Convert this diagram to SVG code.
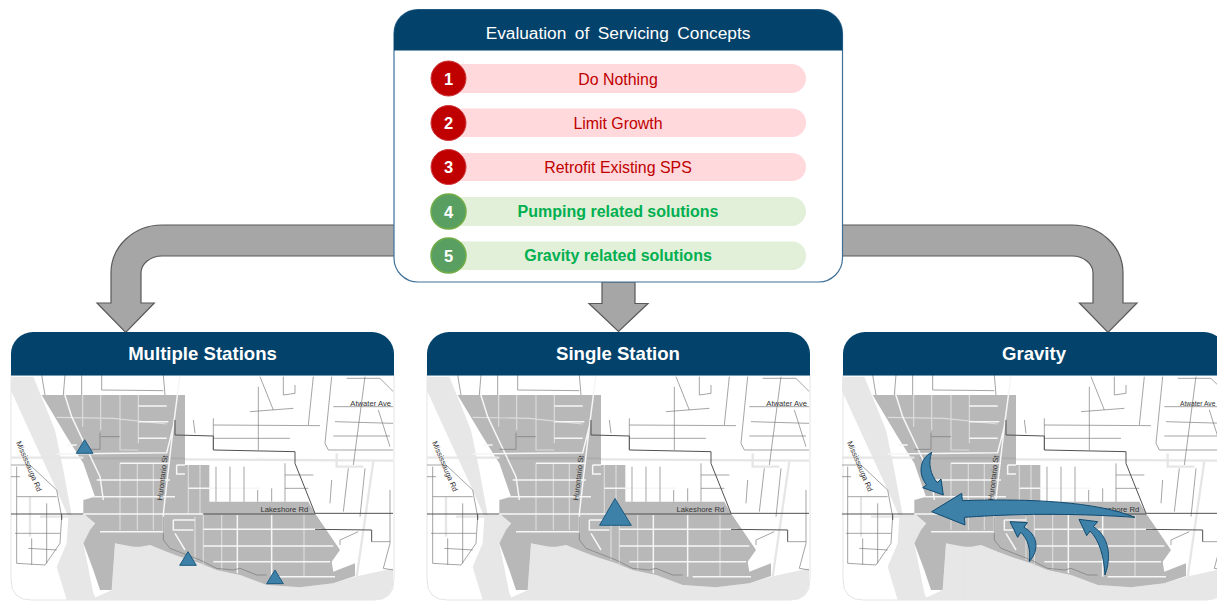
<svg xmlns="http://www.w3.org/2000/svg" xmlns:xlink="http://www.w3.org/1999/xlink" width="1217" height="601" viewBox="0 0 1217 601">
<style>
text{font-family:"Liberation Sans",Arial,sans-serif;text-anchor:middle}
.hd{fill:#03426b}
.ttl{fill:#fff;font-size:18.600px;font-weight:bold}
.arrow{fill:#a6a6a6;stroke:#595959;stroke-width:1.2}
.pr{fill:#ffd9dc}.pg{fill:#e2efd9}
.cr{fill:#c00000;stroke:#d0383c;stroke-width:1}
.cg{fill:#5a9f62;stroke:#70ad47;stroke-width:1.500}
.n{fill:#fff;font-size:16.500px;font-weight:bold}
.tr{fill:#c00000;font-size:15.900px}
.tg{fill:#00b050;font-size:16px;font-weight:bold}
.lbl{fill:#333;font-size:23px}
.card{fill:#fff;stroke:#e4e4e4;stroke-width:1}
.tri{fill:#3d80a8;stroke:#1d5a80;stroke-width:3}
.ga{fill:#3d80a8;stroke:#0f4a70;stroke-width:3}
.land{fill:#e7e7e7}
.zone{fill:#b8b8b8}
.road{fill:none;stroke:#e6e6e6;stroke-width:7}
.band{fill:none;stroke:#adadad;stroke-width:7}
.st{fill:none;stroke:#dcdcdc;stroke-width:3.500}
.wh{fill:none;stroke:#f6f6f6;stroke-width:4.500}
.pipe{fill:none;stroke:#777;stroke-width:2}
.main{fill:none;stroke:#505050;stroke-width:3}
</style>
<defs>
<filter id="soft" x="-2%" y="-2%" width="104%" height="104%"><feGaussianBlur stdDeviation="2"/></filter>
<clipPath id="mapClip"><path d="M32 135H1180V750Q1180 810 1120 810H92Q32 810 32 750Z"/></clipPath>
<g id="map" filter="url(#soft)">
<path class="land" d="M35 140H100L165 300L190 420L215 555H275L285 575L250 640L280 790L290 810H200L170 710L200 640L205 560L170 480L110 350L32 180Z"/>
<path class="land" d="M345 640H400L450 645L500 665L600 700L720 735L800 765L900 772L1000 760L1065 740L1180 715V810H270L335 780Z"/>
<path class="zone" d="M125 195H555V405H628V515H925L945 550L1020 660L995 695L1000 725L1065 700V738L1000 760L900 772L800 765L720 735L650 720L600 700L540 680L500 665L450 645L420 650L400 650L345 640L335 780L300 780L280 720L250 640L270 600L285 580L250 550V510L285 500L250 400L200 320Z"/>
<path class="road" d="M32 383L250 383M555 388L1180 392M1120 395L1070 740M1010 370V410H1090M120 560H250M90 500V620M400 650V810"/>
<path class="band" d="M265 385H555"/>
<path class="st" d="M170 262L340 265L500 282M360 195V360H415M415 195V340M248 195V290M302 195V300M412 400V600M460 400V600M360 400V600M585 560V690M610 555V710M665 555V720M565 405V550M600 405V555M912 555V740"/>
<path class="wh" d="M540 135L520 290L490 550V610M170 372L500 368L520 290M190 180L215 260L300 440L310 510M415 228H500M415 275H505M415 325H500M360 400H510M290 450H510M280 500H525M300 605H490M250 552H610M520 570H585M520 570V600H580M525 610L555 660M712 555V730M815 555V740M610 598H965M610 648H1000M640 695H990M830 740H1005M565 475H780M530 405H555M530 405V432H555M200 345H230"/>
<path class="pipe" d="M640 285L960 287M640 325L870 325M640 265V360M775 170V360M780 140L820 240M750 245L880 235M850 140V195L885 190V165M940 140L925 285M995 140L975 340L985 360H1180M1000 230H1180M1005 275L1180 280M1000 318H1170M1095 140L1060 405M1040 145H1140L1180 185M1135 240L1170 350M648 410V515M690 410V515M732 410V515M773 480V515M815 475V515M855 400V515M855 435H940M855 475H925M995 450L990 520M1045 415L1030 545M1095 415L1080 560M1020 645V630L1075 605M1170 480V640L1150 715L1180 720M1115 635H1170M50 410V700L135 705M32 405H90L170 480L185 560L180 640L135 705M45 610H180M85 655L170 660M95 625V705M140 520V700M32 440H60M50 500H170M125 135L135 195M195 135L190 195M245 135V195M305 135V180L490 182M490 135L495 195M580 270L585 310M300 308V358H250M302 320H360M490 560V630L510 655L600 690L650 715L700 720L720 715L770 735L800 735"/>
<path class="main" d="M525 270V315L640 318V360L885 365V400L945 550H1180M945 598L1115 600V635M32 552H250M610 552H945M185 552V570"/>
</g>
</defs>

<g id="connectors">
<path class="arrow" d="M395 225H162A51 48 0 0 0 111 273V303H97L125.700 332.500L154.300 303H141V273A21 17 0 0 1 162 256H395Z"/>
<path class="arrow" d="M842 225H1072A51 48 0 0 1 1123 273V303H1137L1108 332.500L1079.400 303H1093V273A21 17 0 0 0 1072 256H842Z"/>
<path class="arrow" d="M602 282V303.500H589L618.500 331.500L648 303.500H635V282Z"/>
</g>

<g id="concepts">
<rect x="394" y="9.500" width="448.500" height="272.500" rx="24" fill="#fff" stroke="#3f7097" stroke-width="1.200"/>
<path class="hd" d="M394 50.500V33.500A24 24 0 0 1 418 9.500H818.500A24 24 0 0 1 842.500 33.500V50.500Z"/>
<text x="618" y="39" fill="#fff" font-size="17.300" word-spacing="3.700">Evaluation of Servicing Concepts</text>
<rect class="pr" x="448" y="64" width="358" height="29" rx="14.500"/>
<rect class="pr" x="448" y="108.500" width="358" height="28.500" rx="14"/>
<rect class="pr" x="448" y="153" width="358" height="28" rx="14"/>
<rect class="pg" x="448" y="197" width="358" height="29" rx="14.500"/>
<rect class="pg" x="448" y="241.500" width="358" height="28.500" rx="14"/>
<circle class="cr" cx="448.500" cy="78.500" r="17.500"/><text class="n" x="448.500" y="84.500">1</text>
<circle class="cr" cx="448.500" cy="123" r="17.500"/><text class="n" x="448.500" y="129">2</text>
<circle class="cr" cx="448.500" cy="167" r="17.500"/><text class="n" x="448.500" y="173">3</text>
<circle class="cg" cx="448.500" cy="211.500" r="17.500"/><text class="n" x="448.500" y="217.500">4</text>
<circle class="cg" cx="448.500" cy="255.500" r="17.500"/><text class="n" x="448.500" y="261.500">5</text>
<text class="tr" x="618" y="84.500">Do Nothing</text>
<text class="tr" x="618" y="128.500">Limit Growth</text>
<text class="tr" x="618" y="173">Retrofit Existing SPS</text>
<text class="tg" x="618" y="217">Pumping related solutions</text>
<text class="tg" x="618" y="261">Gravity related solutions</text>
</g>

<g id="multiple-stations">
<path class="card" d="M11 375H394V580Q394 600 374 600H31Q11 600 11 580Z"/>
<g transform="translate(0 330) scale(.33333)" clip-path="url(#mapClip)">
<use href="#map"/>
<text class="lbl" transform="translate(1112 228)">Atwater Ave</text>
<text class="lbl" transform="translate(853 547)">Lakeshore Rd</text>
<text class="lbl" transform="translate(495 445) rotate(-83)">Hurontario St</text>
<text class="lbl" transform="translate(80 412) rotate(67)">Mississauga Rd</text>
<path class="tri" d="M229 370L254 329L279 370Z"/>
<path class="tri" d="M539 706L564 665L589 706Z"/>
<path class="tri" d="M800 761L825 720L850 761Z"/>
</g>
<path class="hd" d="M11 375.500V354A22 22 0 0 1 33 332H372A22 22 0 0 1 394 354V375.500Z"/>
<text class="ttl" x="202.500" y="360">Multiple Stations</text>
</g>

<g id="single-station">
<path class="card" d="M427 375H810V580Q810 600 790 600H447Q427 600 427 580Z"/>
<g transform="translate(416 330) scale(.33333)" clip-path="url(#mapClip)">
<use href="#map"/>
<text class="lbl" transform="translate(1112 228)">Atwater Ave</text>
<text class="lbl" transform="translate(853 547)">Lakeshore Rd</text>
<text class="lbl" transform="translate(495 445) rotate(-83)">Hurontario St</text>
<text class="lbl" transform="translate(80 412) rotate(67)">Mississauga Rd</text>
</g>
<path class="tri" style="stroke-width:1" d="M599.500 525.300L615 498.500L631.300 525.300Z"/>
<path class="hd" d="M427 375.500V354A22 22 0 0 1 449 332H788A22 22 0 0 1 810 354V375.500Z"/>
<text class="ttl" x="618" y="360">Single Station</text>
</g>

<g id="gravity">
<path class="card" d="M843 375H1226V580Q1226 600 1206 600H863Q843 600 843 580Z"/>
<g transform="translate(831 330) scale(.33333)" clip-path="url(#mapClip)">
<use href="#map"/>
<text class="lbl" style="font-size:20px" transform="translate(1100 228)">Atwater Ave</text>
<text class="lbl" transform="translate(853 547)">Lakeshore Rd</text>
<text class="lbl" transform="translate(495 445) rotate(-83)">Hurontario St</text>
<text class="lbl" transform="translate(80 412) rotate(67)">Mississauga Rd</text>
</g>
<g transform="translate(830 330) scale(.33333)">
<path class="ga" d="M305 545L395 490L397 512C600 505 800 515 915 562C760 552 600 548 403 562L405 585Z"/>
<path class="ga" d="M305 367C270 385 262 430 290 465L278 473L340 495L333 447L322 458C302 435 293 400 305 367Z"/>
<path class="ga" d="M598 695C628 660 625 615 582 592L592 578L540 575L563 622L572 607C592 625 603 655 598 695Z"/>
<path class="ga" d="M825 735C845 680 838 620 790 590L803 575L747 568L770 617L780 603C808 630 822 680 825 735Z"/>
</g>
<path class="hd" d="M843 375.500V354A22 22 0 0 1 865 332H1204A22 22 0 0 1 1226 354V375.500Z"/>
<text class="ttl" x="1034" y="360">Gravity</text>
</g>
</svg>
